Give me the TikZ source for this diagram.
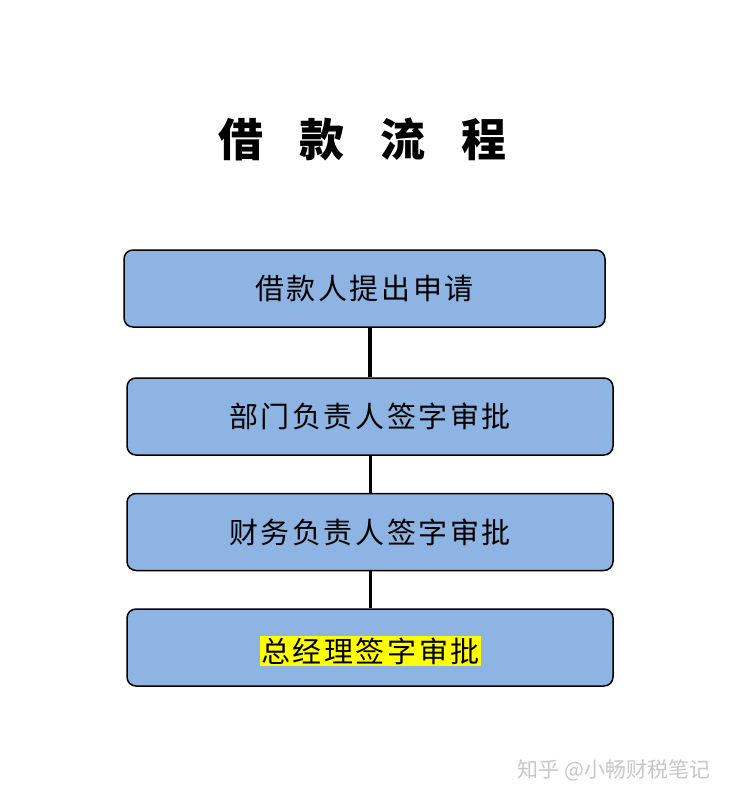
\documentclass[tikz,border=0pt]{standalone}
\usepackage{fontspec}
\newfontfamily\cjk{Noto Sans CJK SC}
\newfontfamily\cjksp[LetterSpace=9]{Noto Sans CJK SC}
\definecolor{boxblue}{HTML}{8EB4E3}
\definecolor{hl}{HTML}{FFFF00}
\begin{document}
\begin{tikzpicture}[x=1pt,y=-1pt,
  stepbox/.style={draw=black,line width=1.5pt,fill=boxblue,rounded corners=9pt,
    minimum width=486pt,minimum height=77pt,inner sep=0pt,
    font=\cjksp\fontsize{29}{29}\selectfont},
  link/.style={draw=black,line width=3.5pt}]
\useasboundingbox (0,0) rectangle (732,802);
\node[font=\cjk\bfseries\fontsize{45}{45}\selectfont] (title) at (362,139) {借\hspace{36pt}款\hspace{36pt}流\hspace{36pt}程};
\node[stepbox,minimum width=481pt] (b1) at (364.5,288.5) {借款人提出申请\hspace{-2.6pt}};
\node[stepbox] (b2) at (370,416.5) {部门负责人签字审批\hspace{-2.6pt}};
\node[stepbox] (b3) at (370,532) {财务负责人签字审批\hspace{-2.6pt}};
\node[stepbox] (b4) at (370,647.5) {};
\node[fill=hl,inner xsep=1pt,inner ysep=1.5pt,font=\cjksp\fontsize{29}{29}\selectfont] (t4) at (370.5,651) {总经理签字审批\hspace{-2.6pt}};
\node[text=black!22,font=\cjk\fontsize{21}{21}\selectfont,anchor=east] (wm) at (714,770) {知乎 @小畅财税笔记};
\draw[link] (b2.north) -- (b2.north |- b1.south);
\draw[link,line width=3pt] (b3.north) -- (b2.south);
\draw[link,line width=3pt] (b4.north) -- (b3.south);
\end{tikzpicture}
\end{document}
